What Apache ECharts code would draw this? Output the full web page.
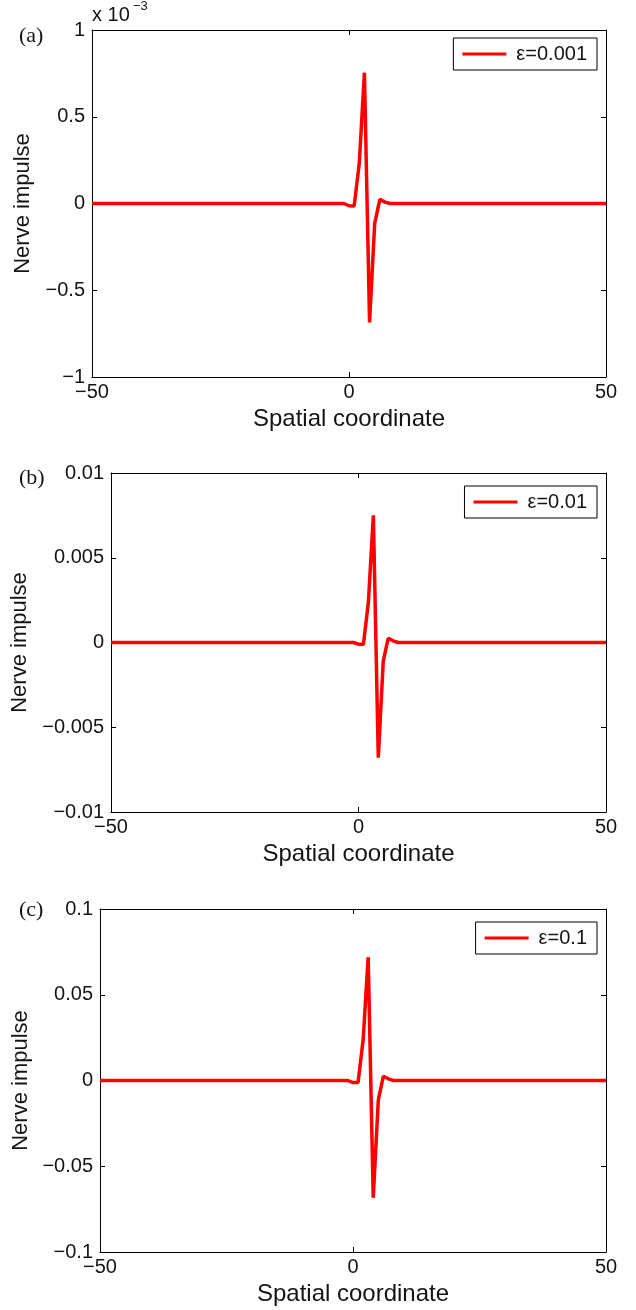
<!DOCTYPE html>
<html>
<head>
<meta charset="utf-8">
<script src="https://cdn.jsdelivr.net/npm/echarts@6/dist/echarts.min.js"></script>
<style>
html, body { margin: 0; padding: 0; background: #fff; }
#chart { width: 636px; height: 1310px; }
</style>
</head>
<body>
<div id="chart"></div>
<script>
// spatial coordinate samples (flat outside the pulse)
var xValues = [-50, -1, 0, 1, 2, 3, 4, 5, 6, 7, 8, 50];
// nerve impulse
var impulseA = [0, 0, -0.000013, -0.000015, 0.000232, 0.000754, -0.000685, -0.000114, 0.000024, 0.000008, 0, 0];
var impulseB = [0, 0, -0.0001, -0.0001, 0.0024, 0.0075, -0.0068, -0.0011, 0.00025, 0.0001, 0, 0];
var impulseC = [0, 0, -0.0012, -0.0012, 0.0236, 0.0719, -0.0684, -0.0114, 0.0025, 0.001, 0, 0];
var seriesNames = ['ε=0.001', 'ε=0.01', 'ε=0.1'];
var panelTags = ['(a)', '(b)', '(c)'];
var yLimits = [0.001, 0.01, 0.1];
var yScales = [1e-3, 1, 1];
var xLimit = 50;

var sans = 'Liberation Sans';
var ink = '#141414';
var panels = [
    {left: 92, top: 30, height: 347, nameGap: 58, legendTop: 38, tagTop: 25},
    {left: 111, top: 473, height: 339, nameGap: 77, legendTop: 486, tagTop: 467},
    {left: 100, top: 909, height: 343, nameGap: 66, legendTop: 922, tagTop: 899}
];
var allData = [impulseA, impulseB, impulseC];

function fmt(v) {
    var s = String(+v.toPrecision(6));
    return s.replace('-', '\u2212');
}

var myChart = echarts.init(document.getElementById('chart'));
var option = {
    animation: false,
    backgroundColor: '#fff',
    grid: [],
    xAxis: [],
    yAxis: [],
    legend: [],
    series: [],
    graphic: []
};

panels.forEach(function (p, i) {
    option.grid.push({left: p.left, top: p.top, right: 30, height: p.height});

    let tick = {inside: true, length: 5, lineStyle: {color: '#000', width: 1}};
    let line = {onZero: false, lineStyle: {color: '#000', width: 1}};
    option.xAxis.push({
        type: 'value', gridIndex: i, min: -xLimit, max: xLimit, interval: xLimit,
        axisLine: line, axisTick: tick, splitLine: {show: false},
        axisLabel: {fontFamily: sans, fontSize: 20, color: ink, margin: 5, formatter: fmt},
        name: 'Spatial coordinate', nameLocation: 'middle', nameGap: 30,
        nameTextStyle: {fontFamily: sans, fontSize: 24, color: ink}
    });
    option.xAxis.push({
        type: 'value', gridIndex: i, position: 'top', min: -xLimit, max: xLimit, interval: xLimit,
        axisLine: line, axisTick: tick, splitLine: {show: false}, axisLabel: {show: false}
    });

    let lim = yLimits[i];
    let sc = yScales[i];
    option.yAxis.push({
        type: 'value', gridIndex: i, min: -lim, max: lim, interval: lim / 2,
        axisLine: line, axisTick: tick, splitLine: {show: false},
        axisLabel: {
            fontFamily: sans, fontSize: 20, color: ink, margin: 7,
            formatter: function (v) { return fmt(v / sc); }
        },
        name: 'Nerve impulse', nameLocation: 'middle', nameGap: p.nameGap,
        nameTextStyle: {fontFamily: sans, fontSize: 22, color: ink}
    });
    option.yAxis.push({
        type: 'value', gridIndex: i, position: 'right', min: -lim, max: lim, interval: lim / 2,
        axisLine: line, axisTick: tick, splitLine: {show: false}, axisLabel: {show: false}
    });

    option.series.push({
        name: seriesNames[i],
        type: 'line',
        xAxisIndex: i * 2,
        yAxisIndex: i * 2,
        symbol: 'none',
        lineStyle: {color: '#ff0000', width: 3.5},
        itemStyle: {color: '#ff0000'},
        data: xValues.map(function (x, k) { return [x, allData[i][k]]; })
    });

    option.legend.push({
        data: [{name: seriesNames[i], icon: 'rect'}],
        right: 39,
        top: p.legendTop,
        borderColor: '#000',
        borderWidth: 1,
        backgroundColor: '#fff',
        padding: [6, 10, 6, 9],
        itemWidth: 44,
        itemHeight: 3,
        textStyle: {fontFamily: sans, fontSize: 20, color: ink, padding: [0, 0, 0, 5]}
    });

    option.graphic.push({
        type: 'text', left: 19, top: p.tagTop,
        style: {text: panelTags[i], font: '22px "Liberation Serif"', fill: ink}
    });
});

// axis multiplier for panel (a)
option.graphic.push({
    type: 'text', left: 92, top: 5,
    style: {text: 'x 10', font: '20px "Liberation Sans"', fill: ink}
});
option.graphic.push({
    type: 'text', left: 133, top: 0,
    style: {text: '\u22123', font: '13px "Liberation Sans"', fill: ink}
});

myChart.setOption(option);
</script>
</body>
</html>
